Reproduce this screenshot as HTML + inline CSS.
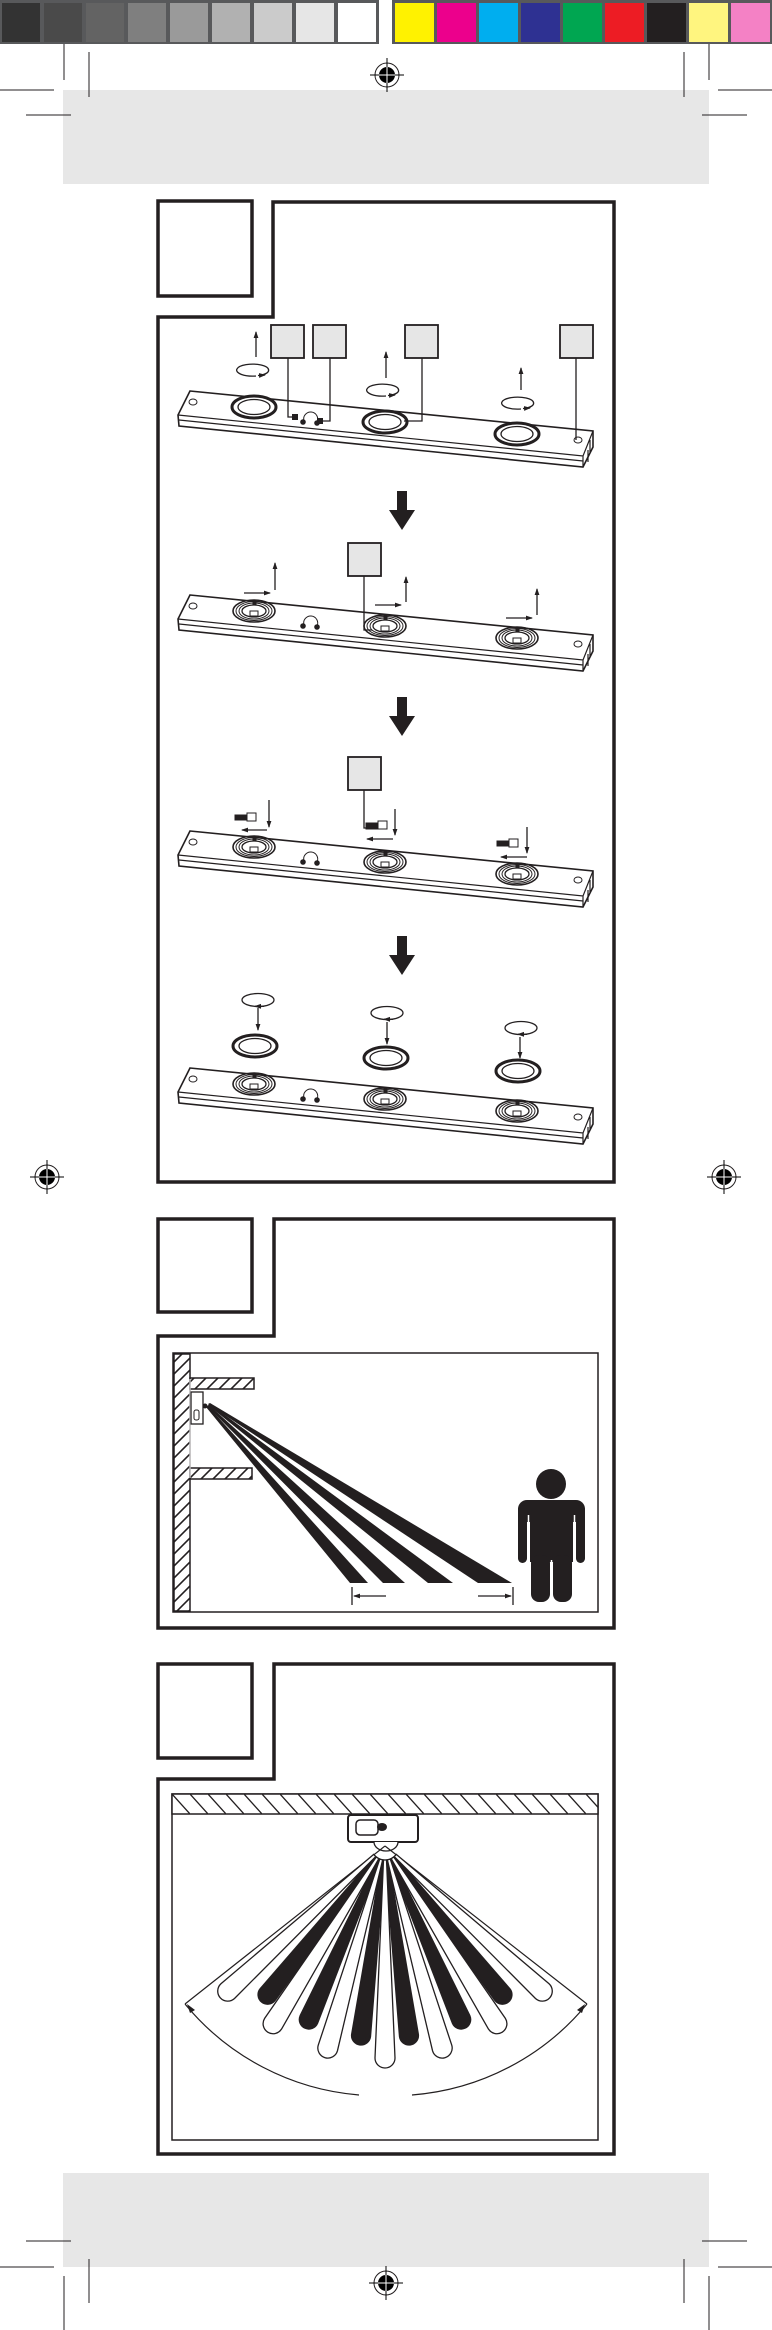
<!DOCTYPE html>
<html><head><meta charset="utf-8"><style>html,body{margin:0;padding:0;background:#fff}svg{display:block}</style></head>
<body>
<svg width="772" height="2330" viewBox="0 0 772 2330" xmlns="http://www.w3.org/2000/svg">
<defs>
<pattern id="h1" patternUnits="userSpaceOnUse" x="0" y="0" width="12" height="12"><rect width="12" height="12" fill="#fff"/><path d="M12,0 L0,12 M-1,1 L1,-1 M11,13 L13,11" stroke="#231f20" stroke-width="1.6"/></pattern>
<pattern id="h2" patternUnits="userSpaceOnUse" x="172" y="1794" width="18" height="20"><rect width="18" height="20" fill="#fff"/><path d="M0,0 L18,20" stroke="#231f20" stroke-width="1.3"/></pattern>
<marker id="ar" markerWidth="7" markerHeight="6" refX="6" refY="3" orient="auto" markerUnits="userSpaceOnUse"><path d="M0,0.6 L7,3 L0,5.4Z" fill="#231f20"/></marker>
<g id="reg"><circle r="12" fill="#fff" stroke="#231f20" stroke-width="1"/><circle r="8" fill="#000"/><line x1="-17" y1="0" x2="17" y2="0" stroke="#000" stroke-width="1"/><line x1="0" y1="-17" x2="0" y2="17" stroke="#000" stroke-width="1"/><line x1="-8" y1="0" x2="8" y2="0" stroke="#fff" stroke-width="1"/><line x1="0" y1="-8" x2="0" y2="8" stroke="#fff" stroke-width="1"/></g>
<g id="bar" fill="#fff" stroke="#231f20">
<path d="M190,391 L593,431 L593,447 L583,467 L179,426 L178,415 Z" stroke-width="1.6"/>
<path d="M178,415 L583,456 L593,431 M179,420 L583,461 M583,456 L583,467 M588,450 L588,462 M590,440 L590,452" fill="none" stroke-width="1.2"/>
<ellipse cx="193" cy="402" rx="4" ry="3" stroke-width="1"/>
<ellipse cx="578" cy="440" rx="4" ry="3" stroke-width="1"/>
<path d="M304,421 A7 7 0 1 1 317,422" fill="none" stroke-width="1"/>
<circle cx="303" cy="422" r="2.3" fill="#231f20"/><circle cx="317" cy="423" r="2.3" fill="#231f20"/>
</g>
<g id="tring" fill="none" stroke="#231f20">
<ellipse rx="21" ry="11" stroke-width="1.6"/><ellipse rx="18" ry="9.5" stroke-width="1"/><ellipse rx="15" ry="8" stroke-width="1"/><ellipse rx="12" ry="6" stroke-width="1.3"/>
<rect x="-4" y="0" width="8" height="5" fill="#fff" stroke-width="1"/><rect x="-1" y="-11" width="3" height="4" fill="#231f20"/>
</g>
<g id="pring"><ellipse rx="22" ry="11" fill="#fff" stroke="#231f20" stroke-width="3"/><ellipse rx="16" ry="7.5" fill="#fff" stroke="#231f20" stroke-width="1.3"/></g>
<g id="bigarrow"><rect x="397" y="0" width="10" height="20" fill="#231f20"/><path d="M389,19 L415,19 L402,39Z" fill="#231f20"/></g>
</defs>

<rect x="0" y="0" width="379" height="44" fill="#58595b"/>
<rect x="392" y="0" width="380" height="44" fill="#58595b"/>
<g>
<rect x="2" y="3" width="38" height="39" fill="#333"/>
<rect x="44" y="3" width="38" height="39" fill="#4a4a4a"/>
<rect x="86" y="3" width="38" height="39" fill="#636363"/>
<rect x="128" y="3" width="38" height="39" fill="#7f7f7f"/>
<rect x="170" y="3" width="38" height="39" fill="#9a9a9a"/>
<rect x="212" y="3" width="38" height="39" fill="#b1b1b1"/>
<rect x="254" y="3" width="38" height="39" fill="#cbcbcb"/>
<rect x="296" y="3" width="38" height="39" fill="#e6e6e6"/>
<rect x="338" y="3" width="38" height="39" fill="#fff"/>
<rect x="395" y="3" width="39" height="39" fill="#fff200"/>
<rect x="437" y="3" width="39" height="39" fill="#ec008c"/>
<rect x="479" y="3" width="39" height="39" fill="#00aeef"/>
<rect x="521" y="3" width="39" height="39" fill="#2e3192"/>
<rect x="563" y="3" width="39" height="39" fill="#00a651"/>
<rect x="605" y="3" width="39" height="39" fill="#ed1c24"/>
<rect x="647" y="3" width="39" height="39" fill="#231f20"/>
<rect x="689" y="3" width="39" height="39" fill="#fff57f"/>
<rect x="731" y="3" width="39" height="39" fill="#f481c5"/>
</g>

<rect x="63" y="90" width="646" height="94" fill="#e7e7e7"/>
<rect x="63" y="2173" width="646" height="94" fill="#e7e7e7"/>
<g stroke="#231f20" stroke-width="1">
<path d="M64,44V80 M89,52V97 M684,52V97 M709,44V80 M0,90H54 M718,90H772 M26,115H71 M702,115H747"/>
<path d="M26,2241H71 M702,2241H747 M0,2267H54 M718,2267H772 M89,2259V2303 M684,2259V2303 M64,2276V2330 M709,2276V2330"/>
</g>
<use href="#reg" x="387" y="75"/>
<use href="#reg" x="386" y="2283"/>
<use href="#reg" x="47" y="1177"/>
<use href="#reg" x="724" y="1177"/>

<!-- PANEL 1 -->
<g fill="none" stroke="#231f20" stroke-width="3.5">
<rect x="158" y="201" width="94" height="95"/>
<path d="M273,202 H614 V1182 H158 V317 H273 Z"/>
</g>

<use href="#bar"/>
<use href="#pring" x="254" y="407"/>
<use href="#pring" x="385" y="422"/>
<use href="#pring" x="517" y="434"/>
<g fill="#231f20"><rect x="292" y="414" width="6" height="6"/><rect x="317" y="418" width="6" height="6"/></g>
<g fill="#e6e6e6" stroke="#231f20" stroke-width="1.8">
<rect x="271" y="325" width="33" height="33"/><rect x="313" y="325" width="33" height="33"/><rect x="405" y="325" width="33" height="33"/><rect x="560" y="325" width="33" height="33"/>
</g>
<g fill="none" stroke="#231f20" stroke-width="1.3">
<path d="M288,358 V417 H295 M330,358 V421 H320 M422,358 V421 H404 M576,358 V440"/>
<path d="M256,357 V332" marker-end="url(#ar)"/>
<path d="M386,378 V352" marker-end="url(#ar)"/>
<path d="M521,390 V368" marker-end="url(#ar)"/>
<path d="M256,376 A16 6 0 1 1 262,375"/><path d="M258,375.5 L265,375" marker-end="url(#ar)"/>
<path d="M386,396 A16 6 0 1 1 392,395"/><path d="M388,395.5 L395,395" marker-end="url(#ar)"/>
<path d="M521,409 A16 6 0 1 1 527,408"/><path d="M523,408.5 L530,408" marker-end="url(#ar)"/>
</g>

<use href="#bigarrow" y="491"/>

<use href="#bar" y="204"/>
<use href="#tring" x="254" y="611"/>
<use href="#tring" x="385" y="626"/>
<use href="#tring" x="517" y="638"/>
<rect x="348" y="543" width="33" height="33" fill="#e6e6e6" stroke="#231f20" stroke-width="1.8"/>
<g fill="none" stroke="#231f20" stroke-width="1.3">
<path d="M364,576 V630 H372"/>
<path d="M275,590 V563" marker-end="url(#ar)"/>
<path d="M406,602 V577" marker-end="url(#ar)"/>
<path d="M537,615 V589" marker-end="url(#ar)"/>
<path d="M244,593 H270" marker-end="url(#ar)"/>
<path d="M375,605 H401" marker-end="url(#ar)"/>
<path d="M506,618 H532" marker-end="url(#ar)"/>
</g>

<use href="#bigarrow" y="697"/>

<use href="#bar" y="440"/>
<use href="#tring" x="254" y="847"/>
<use href="#tring" x="385" y="862"/>
<use href="#tring" x="517" y="874"/>
<rect x="348" y="757" width="33" height="33" fill="#e6e6e6" stroke="#231f20" stroke-width="1.8"/>
<g fill="none" stroke="#231f20" stroke-width="1.3">
<path d="M364,790 V828 H370"/>
<path d="M269,800 V827" marker-end="url(#ar)"/>
<path d="M395,809 V835" marker-end="url(#ar)"/>
<path d="M527,827 V853" marker-end="url(#ar)"/>
<path d="M267,830 H242" marker-end="url(#ar)"/>
<path d="M393,839 H367" marker-end="url(#ar)"/>
<path d="M527,857 H501" marker-end="url(#ar)"/>
</g>
<g fill="#231f20" stroke="#231f20" stroke-width="1">
<rect x="235" y="815" width="12" height="5"/><rect x="247" y="813" width="9" height="8" fill="#fff"/>
<rect x="366" y="823" width="12" height="6"/><rect x="378" y="821" width="9" height="8" fill="#fff"/>
<rect x="497" y="841" width="12" height="5"/><rect x="509" y="839" width="9" height="8" fill="#fff"/>
</g>

<use href="#bigarrow" y="936"/>

<use href="#bar" y="677"/>
<use href="#tring" x="254" y="1084"/>
<use href="#tring" x="385" y="1099"/>
<use href="#tring" x="517" y="1111"/>
<use href="#pring" x="255" y="1046"/>
<use href="#pring" x="386" y="1058"/>
<use href="#pring" x="518" y="1071"/>
<g fill="none" stroke="#231f20" stroke-width="1.3">
<ellipse cx="258" cy="1000" rx="16" ry="6.5"/><ellipse cx="387" cy="1013" rx="16" ry="6.5"/><ellipse cx="521" cy="1028" rx="16" ry="6.5"/>
<path d="M258,1008 V1030" marker-end="url(#ar)"/>
<path d="M387,1022 V1044" marker-end="url(#ar)"/>
<path d="M520,1037 V1058" marker-end="url(#ar)"/>
<path d="M264,1006.3 H255" marker-end="url(#ar)"/>
<path d="M393,1019.3 H384" marker-end="url(#ar)"/>
<path d="M527,1034.3 H518" marker-end="url(#ar)"/>
</g>

<!-- PANEL 2 -->
<g fill="none" stroke="#231f20" stroke-width="3.5">
<rect x="158" y="1219" width="94" height="93"/>
<path d="M274,1219 H614 V1628 H158 V1336 H274 Z"/>
</g>
<rect x="173" y="1353" width="425" height="259" fill="#fff" stroke="#231f20" stroke-width="1.5"/>
<rect x="174" y="1354" width="16" height="257" fill="url(#h1)" stroke="#231f20" stroke-width="1.5"/>
<rect x="190" y="1378" width="64" height="11" fill="url(#h1)" stroke="#231f20" stroke-width="1.5"/>
<rect x="190" y="1468" width="62" height="11" fill="url(#h1)" stroke="#231f20" stroke-width="1.5"/>
<line x1="190" y1="1379" x2="190" y2="1478" stroke="#fff" stroke-width="1"/>
<rect x="191" y="1392" width="12" height="32" fill="#fff" stroke="#231f20" stroke-width="1.3"/>
<rect x="194" y="1410" width="5" height="10" rx="2" fill="#fff" stroke="#231f20" stroke-width="1"/>
<circle cx="205" cy="1406" r="2.5" fill="#231f20"/>
<g fill="#231f20">
<polygon points="206,1407 350,1583 368,1583 208,1406"/>
<polygon points="207,1406 383,1583 405,1583 209,1405"/>
<polygon points="208,1405 428,1583 453,1583 210,1404"/>
<polygon points="208,1404 478,1583 512,1583 210,1403"/>
</g>
<g stroke="#231f20" stroke-width="1.3" fill="none">
<path d="M352,1587 V1605 M513,1587 V1605"/>
<path d="M386,1596 H354" marker-end="url(#ar)"/>
<path d="M478,1596 H511" marker-end="url(#ar)"/>
</g>
<g fill="#231f20">
<circle cx="551" cy="1484" r="15"/>
<rect x="518" y="1500" width="67" height="22" rx="9"/>
<rect x="518" y="1505" width="9" height="58" rx="4.5"/>
<rect x="576" y="1505" width="9" height="58" rx="4.5"/>
<rect x="530" y="1500" width="43" height="62"/>
<rect x="531" y="1555" width="19" height="47" rx="8"/>
<rect x="553" y="1555" width="19" height="47" rx="8"/>
</g>
<path d="M528.5,1515 V1562 M574.5,1515 V1562 M551.5,1560 V1600" stroke="#fff" stroke-width="1.5"/>

<!-- PANEL 3 -->
<g fill="none" stroke="#231f20" stroke-width="3.5">
<rect x="158" y="1664" width="94" height="94"/>
<path d="M274,1664 H614 V2154 H158 V1779 H274 Z"/>
</g>
<rect x="172" y="1794" width="426" height="346" fill="#fff" stroke="#231f20" stroke-width="1.5"/>
<rect x="172" y="1794" width="426" height="20" fill="url(#h2)" stroke="#231f20" stroke-width="1.5"/>
<rect x="348" y="1815" width="70" height="27" rx="3" fill="#fff" stroke="#231f20" stroke-width="2"/>
<rect x="356" y="1820" width="22" height="15" rx="4" fill="#fff" stroke="#231f20" stroke-width="1.5"/>
<ellipse cx="382" cy="1827" rx="5" ry="4" fill="#231f20"/>
<path d="M374,1842 A12 9 0 0 0 398,1842" fill="#fff" stroke="#231f20" stroke-width="1.3"/>
<path d="M385,1846 L185,2004 M385,1846 L587,2004" stroke="#231f20" stroke-width="1.2"/>
<path d="M185,2004 A252 252 0 0 0 359,2095 M412,2095 A252 252 0 0 0 587,2004" fill="none" stroke="#231f20" stroke-width="1.2"/>
<path d="M187,2004 L195,2010 L190,2013Z M585,2004 L577,2010 L582,2013Z" fill="#231f20"/>
<g stroke="#231f20" stroke-width="1.3">
<g fill="#231f20">
<path transform="translate(385,1846) rotate(38.3)" d="M-1.5,14 L-9.5,189.5 A9.5 9.5 0 0 0 9.5,189.5 L1.5,14Z"/>
<path transform="translate(385,1846) rotate(-38.3)" d="M-1.5,14 L-9.5,189.5 A9.5 9.5 0 0 0 9.5,189.5 L1.5,14Z"/>
<path transform="translate(385,1846) rotate(23.7)" d="M-1.5,14 L-9.5,189.5 A9.5 9.5 0 0 0 9.5,189.5 L1.5,14Z"/>
<path transform="translate(385,1846) rotate(-23.7)" d="M-1.5,14 L-9.5,189.5 A9.5 9.5 0 0 0 9.5,189.5 L1.5,14Z"/>
<path transform="translate(385,1846) rotate(7.2)" d="M-1.5,14 L-9.5,191 A9.5 9.5 0 0 0 9.5,191 L1.5,14Z"/>
<path transform="translate(385,1846) rotate(-7.2)" d="M-1.5,14 L-9.5,191 A9.5 9.5 0 0 0 9.5,191 L1.5,14Z"/>
</g>
<g fill="#fff">
<path transform="translate(385,1846) rotate(47.3)" d="M-1.5,14 L-10,214 A10 10 0 0 0 10,214 L1.5,14Z"/>
<path transform="translate(385,1846) rotate(-47.3)" d="M-1.5,14 L-10,214 A10 10 0 0 0 10,214 L1.5,14Z"/>
<path transform="translate(385,1846) rotate(32.2)" d="M-1.5,14 L-10,210 A10 10 0 0 0 10,210 L1.5,14Z"/>
<path transform="translate(385,1846) rotate(-32.2)" d="M-1.5,14 L-10,210 A10 10 0 0 0 10,210 L1.5,14Z"/>
<path transform="translate(385,1846) rotate(15.8)" d="M-1.5,14 L-10,210 A10 10 0 0 0 10,210 L1.5,14Z"/>
<path transform="translate(385,1846) rotate(-15.8)" d="M-1.5,14 L-10,210 A10 10 0 0 0 10,210 L1.5,14Z"/>
<path transform="translate(385,1846)" d="M-1.5,14 L-10,212 A10 10 0 0 0 10,212 L1.5,14Z"/>
</g>
</g>
</svg>
</body></html>
